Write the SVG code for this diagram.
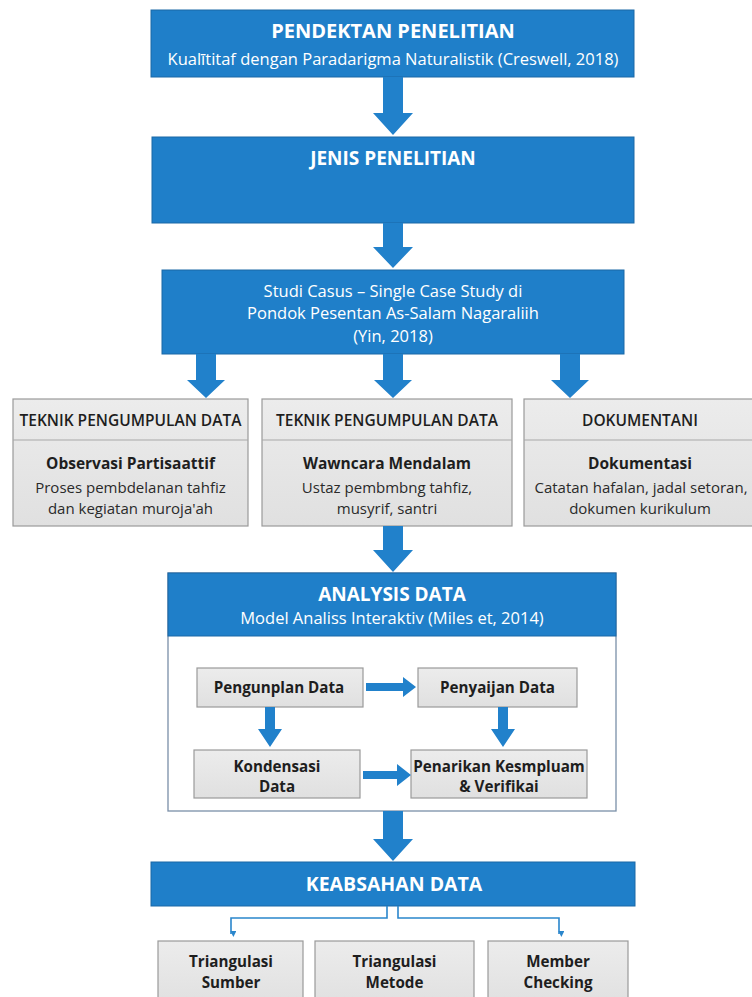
<svg xmlns="http://www.w3.org/2000/svg" width="752" height="997" viewBox="0 0 752 997">
<defs>
<style>
.blue{fill:#1f7fc9;stroke:#1b68a6;stroke-width:1}
.gray{fill:url(#gg);stroke:#9a9a9a;stroke-width:1.2}
.div{stroke:#a8a8a8;stroke-width:1}
.arw{fill:#2181cb}
.thin{fill:none;stroke:#2a86cc;stroke-width:1.6}
text{font-family:"Open Sans","Noto Sans",sans-serif;text-anchor:middle}
.wt{fill:#ffffff;font-weight:700;font-size:19px}
.ws{fill:#ffffff;font-size:16.5px}
.gh{fill:#1e1e1e;font-size:15.5px;font-weight:600}
.gt{fill:#1e1e1e;font-size:15.5px;font-weight:700}
.gb{fill:#2a2a2a;font-size:15px}
.ib{fill:#1e1e1e;font-size:15.2px;font-weight:700}
</style>
<linearGradient id="gg" x1="0" y1="0" x2="0" y2="1">
<stop offset="0" stop-color="#ececec"/>
<stop offset="1" stop-color="#e0e0e0"/>
</linearGradient>
<marker id="mh" viewBox="0 0 10 10" refX="5" refY="9" markerWidth="6" markerHeight="6" orient="auto" markerUnits="userSpaceOnUse">
<path d="M0 0 L10 5 L0 10 Z" fill="#2a86cc"/>
</marker>
</defs>
<rect width="752" height="997" fill="#ffffff"/>

<g id="pendekatan">
<rect class="blue" x="151" y="10" width="483" height="67"/>
<text class="wt" x="393" y="38" style="font-size:20px">PENDEKTAN PENELITIAN</text>
<text class="ws" x="393" y="65">Kualītitaf dengan Paradarigma Naturalistik (Creswell, 2018)</text>
</g>

<g id="jenis">
<rect class="blue" x="152" y="137" width="482" height="86"/>
<text class="wt" x="393" y="165">JENIS PENELITIAN</text>
</g>

<g id="studi-kasus">
<rect class="blue" x="162" y="270" width="462" height="84"/>
<text class="ws" x="393" y="297">Studi Casus – Single Case Study di</text>
<text class="ws" x="393" y="319">Pondok Pesentan As-Salam Nagaraliih</text>
<text class="ws" x="393" y="342">(Yin, 2018)</text>
</g>

<g id="observasi">
<rect class="gray" x="13" y="399" width="235" height="127"/>
<line class="div" x1="13" y1="440" x2="248" y2="440"/>
<text class="gh" x="130.5" y="426">TEKNIK PENGUMPULAN DATA</text>
<text class="gt" x="130.5" y="469">Observasi Partisaattif</text>
<text class="gb" x="130.5" y="493">Proses pembdelanan tahfiz</text>
<text class="gb" x="130.5" y="514">dan kegiatan muroja'ah</text>
</g>

<g id="wawancara">
<rect class="gray" x="262" y="399" width="250" height="127"/>
<line class="div" x1="262" y1="440" x2="512" y2="440"/>
<text class="gh" x="387" y="426">TEKNIK PENGUMPULAN DATA</text>
<text class="gt" x="387" y="469">Wawncara Mendalam</text>
<text class="gb" x="387" y="493">Ustaz pembmbng tahfiz,</text>
<text class="gb" x="387" y="514">musyrif, santri</text>
</g>

<g id="dokumentasi">
<rect class="gray" x="524" y="399" width="240" height="127"/>
<line class="div" x1="524" y1="440" x2="764" y2="440"/>
<text class="gh" x="640" y="426">DOKUMENTANI</text>
<text class="gt" x="640" y="469">Dokumentasi</text>
<text class="gb" x="641" y="493">Catatan hafalan, jadal setoran,</text>
<text class="gb" x="640" y="514">dokumen kurikulum</text>
</g>

<g id="analysis">
<rect x="168" y="573" width="448" height="238" fill="#ffffff" stroke="#7a8fa8" stroke-width="1.3"/>
<rect class="blue" x="168" y="573" width="448" height="63"/>
<text class="wt" x="392" y="601">ANALYSIS DATA</text>
<text class="ws" x="392" y="624">Model Analiss Interaktiv (Miles et, 2014)</text>
</g>

<g id="pengumpulan">
<rect class="gray" x="197" y="668" width="166" height="39"/>
<text class="ib" x="279" y="693">Pengunplan Data</text>
</g>

<g id="penyajian">
<rect class="gray" x="418" y="668" width="159" height="39"/>
<text class="ib" x="497.5" y="693">Penyaijan Data</text>
</g>

<g id="kondensasi">
<rect class="gray" x="194" y="750" width="166" height="48"/>
<text class="ib" x="277" y="772">Kondensasi</text>
<text class="ib" x="277" y="792">Data</text>
</g>

<g id="penarikan">
<rect class="gray" x="411" y="750" width="176" height="48"/>
<text class="ib" x="499" y="772">Penarikan Kesmpluam</text>
<text class="ib" x="499" y="792">&amp; Verifikai</text>
</g>

<g id="keabsahan">
<rect class="blue" x="151" y="862" width="484" height="44"/>
<text class="wt" x="394" y="891" style="font-size:19.5px">KEABSAHAN DATA</text>
</g>

<g id="triangulasi-sumber">
<rect class="gray" x="158" y="941" width="145" height="66"/>
<text class="ib" x="231" y="967">Triangulasi</text>
<text class="ib" x="231" y="988">Sumber</text>
</g>

<g id="triangulasi-metode">
<rect class="gray" x="315" y="941" width="159" height="66"/>
<text class="ib" x="394.5" y="967">Triangulasi</text>
<text class="ib" x="394.5" y="988">Metode</text>
</g>

<g id="member-checking">
<rect class="gray" x="488" y="941" width="140" height="66"/>
<text class="ib" x="558" y="967">Member</text>
<text class="ib" x="558" y="988">Checking</text>
</g>

<g id="connectors">
<path class="arw" d="M383 77 H403 V113 H413 L393 135 L373 113 H383 Z"/>
<path class="arw" d="M383 223 H403 V247 H413 L393 268 L373 247 H383 Z"/>
<path class="arw" d="M196 354 H216 V380 H225 L206 398 L187 380 H196 Z"/>
<path class="arw" d="M383 354 H403 V380 H412 L393 398 L374 380 H383 Z"/>
<path class="arw" d="M560 354 H580 V380 H589 L570 398 L551 380 H560 Z"/>
<path class="arw" d="M383 526 H403 V550 H413 L393 572 L373 550 H383 Z"/>
<path class="arw" d="M383 811 H403 V839 H413 L393 861 L373 839 H383 Z"/>
<path class="arw" d="M366 683 H403 V677 L416 687 L403 697 V691 H366 Z"/>
<path class="arw" d="M363 771 H397 V764 L411 775 L397 786 V779 H363 Z"/>
<path class="arw" d="M265 707 H275 V729 H282 L270 747 L258 729 H265 Z"/>
<path class="arw" d="M498 707 H508 V729 H515 L503 747 L491 729 H498 Z"/>
<path class="thin" d="M387 906 V918 H231 V934" marker-end="url(#mh)"/>
<path class="thin" d="M398 906 V918 H559 V934" marker-end="url(#mh)"/>
</g>
</svg>
